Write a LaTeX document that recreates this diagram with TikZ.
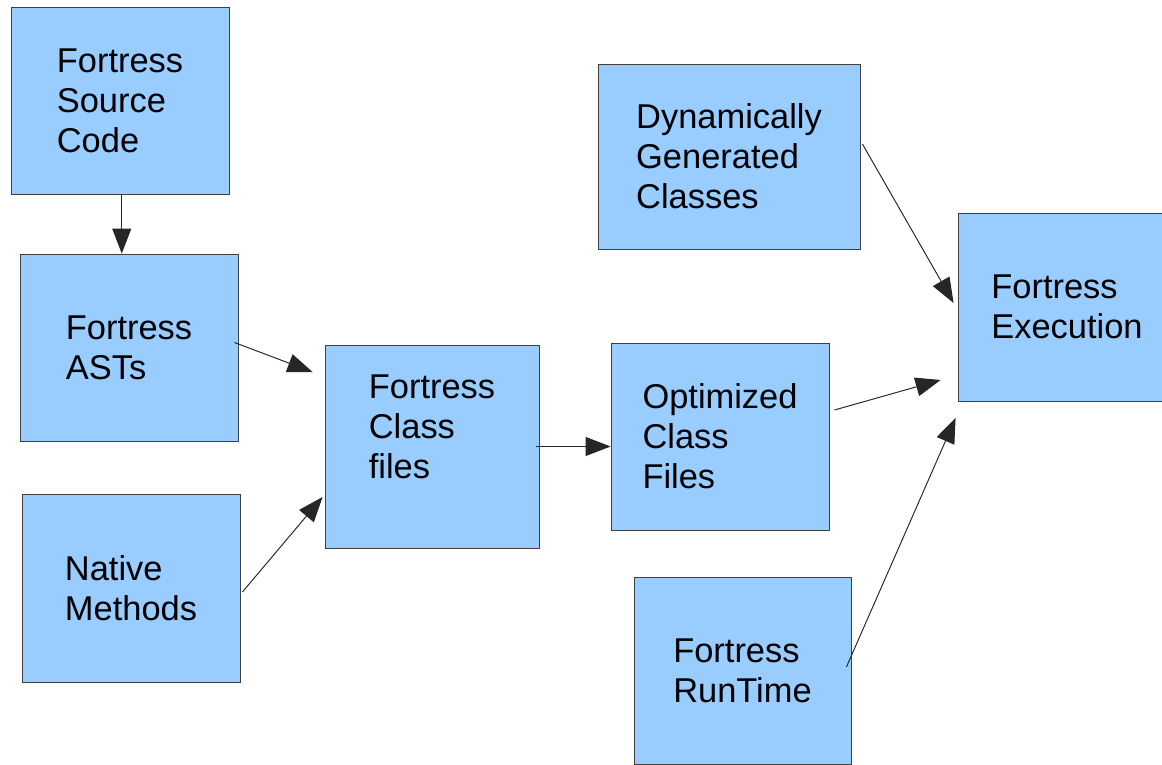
\documentclass[tikz,border=0pt]{standalone}
\usepackage{fontspec}
\setmainfont{Liberation Sans}
\usetikzlibrary{arrows.meta}

\begin{document}
\begin{tikzpicture}[x=0.02cm, y=-0.02cm,
	kasten/.style={draw=black!75, line width=0.5pt, fill=kastenblau, inner sep=0pt,
		align=left, font=\fontsize{19.6}{22.8}\selectfont},
	pfeil/.style={draw=black!85, line width=0.55pt, -{Triangle[length=0.5cm, width=0.38cm]}}]
	\definecolor{kastenblau}{HTML}{99CCFF}
	\useasboundingbox (0,0) rectangle (1162,764);
	\clip (0,0) rectangle (1162,764); % Rahmen wie im Original

	\node[kasten, minimum width=4.36cm, minimum height=3.74cm] (src) at (120,100.5) {Fortress\\Source\\Code};
	\node[kasten, minimum width=4.36cm, minimum height=3.74cm] (ast) at (129,347.5) {Fortress\\ASTs};
	\node[kasten, minimum width=4.36cm, minimum height=3.76cm] (nat) at (131,588) {Native\\Methods};
	\node[kasten, minimum width=4.28cm, minimum height=4.06cm] (cls) at (432,446.5) {Fortress\\Class\\files\\\mbox{}};
	\node[kasten, minimum width=4.36cm, minimum height=3.74cm] (opt) at (720,436.5) {Optimized\\Class\\Files};
	\node[kasten, minimum width=5.24cm, minimum height=3.70cm] (dyn) at (729,156.5) {Dynamically\\Generated\\Classes};
	\node[kasten, minimum width=4.36cm, minimum height=3.76cm] (exe) at (1067,307) {Fortress\\Execution};
	\node[kasten, minimum width=4.34cm, minimum height=3.74cm] (rt) at (742.5,670.5) {Fortress\\RunTime};

	\draw[pfeil] ([xshift=1]src.south) -- ([xshift=1]src.south |- ast.north);
	\draw[pfeil] ([shift={(-4,-5)}]ast.east) -- ([shift={(-12,-74.5)}]cls.west);
	\draw[pfeil] ([shift={(2,4)}]nat.east) -- ([shift={(-2,50.5)}]cls.west);
	\draw[pfeil] ([xshift=-2]cls.east) -- (cls.east -| opt.west);
	\draw[pfeil] ([shift={(5,-26.5)}]opt.east) -- ([shift={(-17,73)}]exe.west);
	\draw[pfeil] ([shift={(2,-12.5)}]dyn.east) -- ([shift={(-4,-4)}]exe.west);
	\draw[pfeil] ([shift={(-5,-3.5)}]rt.east) -- ([shift={(-2,111)}]exe.west);

	%\draw[help lines, step=50] (0,0) grid (1162,764);
\end{tikzpicture}
\end{document}
